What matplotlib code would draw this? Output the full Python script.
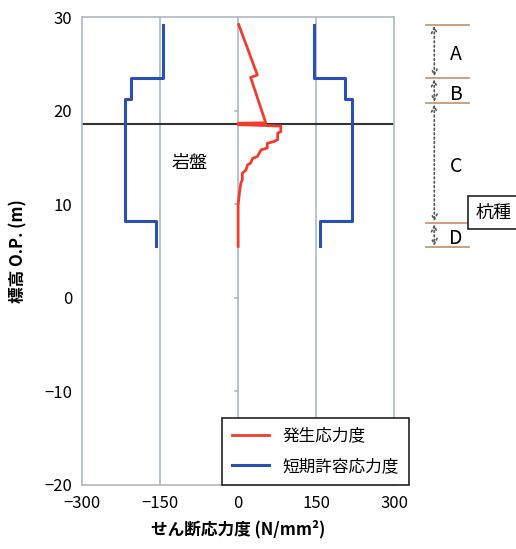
import matplotlib
matplotlib.use('Agg')
import matplotlib.pyplot as plt

plt.rcParams['font.family'] = ['Noto Sans CJK JP', 'DejaVu Sans']

# data
stress_x = [1, 37, 24, 53, 0, 0, 82, 82, 76, 76, 69, 56, 56, 44, 37, 28, 24, 18, 15, 8, 8, 5, 2, 0, 0]
stress_y = [29.2, 23.8, 23.55, 18.7, 18.65, 18.5, 18.35, 17.75, 17.6, 16.9, 16.7, 16.5, 16.0,
            15.8, 15.1, 14.9, 14.4, 14.2, 13.65, 13.3, 12.6, 12.2, 11.0, 9.9, 5.5]
allow_x = [145, 145, 205, 205, 218, 218, 157, 157]
allow_y = [29.2, 23.5, 23.5, 21.2, 21.2, 8.2, 8.2, 5.5]
ground = 18.6

xticks = [-300, -150, 0, 150, 300]
yticks = [30, 20, 10, 0, -10, -20]

# pile zones on the right side
zone_lines = [29.2, 23.5, 20.8, 8.0, 5.4]
zone_names = ['A', 'B', 'C', 'D']

red = '#f23c2c'
blue = '#2a50b8'
grid_c = '#a9bac6'

fig = plt.figure(figsize=(5.16, 5.49), dpi=100)
ax = fig.add_axes([0.159, 0.1166, 0.605, 0.8524])

ax.set_xlim(-300, 300)
ax.set_ylim(-20, 30)
ax.set_xticks(xticks)
ax.set_yticks(yticks)
ax.set_xticklabels(['\u2212300', '\u2212150', '0', '150', '300'])
ax.set_yticklabels(['30', '20', '10', '0', '\u221210', '\u221220'])
ax.tick_params(length=0, labelsize=12, pad=7)
for s in ax.spines.values():
    s.set_color(grid_c)
    s.set_linewidth(1.2)
for xv in [-150, 0, 150]:
    ax.axvline(xv, color=grid_c, lw=1.2, zorder=1)
# small ticks on the zero axis
for yv in yticks[1:-1]:
    ax.plot([-6, 0], [yv, yv], color=grid_c, lw=1.2, zorder=1)

ax.axhline(ground, color='#333333', lw=1.5, zorder=2)

ax.plot(stress_x, stress_y, color=red, lw=2, label='発生応力度', zorder=3)
ax.plot(allow_x, allow_y, color=blue, lw=2.2, label='短期許容応力度', zorder=3)
ax.plot([-v for v in allow_x], allow_y, color=blue, lw=2.2, zorder=3)

ax.text(-94, 14.4, '岩盤', fontsize=13, ha='center', va='center')

ax.set_xlabel('せん断応力度 (N/mm²)', fontsize=12, fontweight='bold', labelpad=6)
ax.set_ylabel('標高 O.P. (m)', fontsize=12, fontweight='bold', labelpad=12)

leg = ax.legend(loc='lower left', bbox_to_anchor=(0.449, 0.0), borderaxespad=0,
                fancybox=False, edgecolor='#222222', fontsize=12, handlelength=2.2,
                labelspacing=0.8, borderpad=0.6, framealpha=1)
leg.get_frame().set_linewidth(1.2)
leg.set_zorder(5)

# zone markers outside the axes
for yv in zone_lines:
    ax.plot([362, 444], [yv, yv], color='#d08a6a', lw=1.2, clip_on=False)
for i, name in enumerate(zone_names):
    top, bot = zone_lines[i], zone_lines[i + 1]
    ax.annotate('', xy=(377, bot), xytext=(377, top), annotation_clip=False,
                arrowprops=dict(arrowstyle='<->', linestyle=':', color='#555555',
                                lw=1.2, shrinkA=1, shrinkB=1))
    ax.text(419, (top + bot) / 2 - 0.4, name, fontsize=14, ha='center', va='center',
            clip_on=False)
ax.text(456, 9.1, '杭種', fontsize=13, ha='left', va='center', clip_on=False,
        bbox=dict(boxstyle='square,pad=0.4', fc='white', ec='#222222', lw=1.2))

fig.savefig('out.png', dpi=100)
